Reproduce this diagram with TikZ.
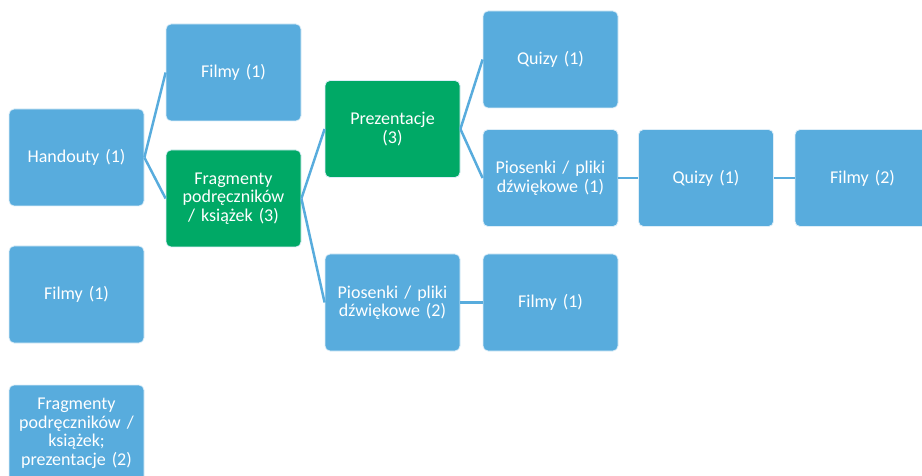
\documentclass[tikz,border=0pt]{standalone}
\usepackage{fontspec}
\setmainfont{Carlito}
\usetikzlibrary{positioning}
\definecolor{boxBlue}{HTML}{58ACDD}
\definecolor{boxGreen}{HTML}{00A966}
\tikzset{
	box/.style={rectangle, rounded corners=5pt, fill=boxBlue, draw=white!80!boxBlue, line width=0.8pt,
		minimum width=135pt, minimum height=97pt, text width=130pt, align=center, inner sep=0pt,
		text=white, font=\fontsize{18}{18.5}\selectfont},
	hibox/.style={box, fill=boxGreen},
	link/.style={draw=boxBlue, line width=2.5pt},
}

\begin{document}
\begin{tikzpicture}[x=1pt, y=-1pt]
\useasboundingbox (0,0) rectangle (922,476);

% Draw boxes
\node[box] (handouty) at (76.5,157.5) {Handouty (1)};
\node[box] (filmyA) at (76.5,294.5) {Filmy (1)};
\node[box] (fragmentyB) at (76.5,433.5) {Fragmenty\\podręczników /\\książek;\\prezentacje (2)};

\node[box] (filmyB) at (233.5,72.5) {Filmy (1)};
\node[hibox] (fragmenty) at (233.5,198.5) {Fragmenty\\podręczników\\/ książek (3)};

\node[hibox] (prezentacje) at (392.5,129) {Prezentacje\\(3)};
\node[box] (piosenkiB) at (392.5,302.5) {Piosenki / pliki\\dźwiękowe (2)};

\node[box] (quizyA) at (550.5,59.5) {Quizy (1)};
\node[box] (piosenkiA) at (550.5,178) {Piosenki / pliki\\dźwiękowe (1)};
\node[box] (filmyC) at (550.5,302.5) {Filmy (1)};

\node[box] (quizyB) at (706,178) {Quizy (1)};
\node[box] (filmyD) at (862.5,178) {Filmy (2)};

% Draw links
\draw[link] (handouty.east) -- (filmyB.west);
\draw[link] (handouty.east) -- (fragmenty.west);
\draw[link] (fragmenty.east) -- (prezentacje.west);
\draw[link] (fragmenty.east) -- (piosenkiB.west);
\draw[link] (prezentacje.east) -- (quizyA.west);
\draw[link] (prezentacje.east) -- (piosenkiA.west);
\draw[link] (piosenkiA.east) -- (quizyB.west);
\draw[link] (quizyB.east) -- (filmyD.west);
\draw[link] (piosenkiB.east) -- (filmyC.west);
\end{tikzpicture}
\end{document}
